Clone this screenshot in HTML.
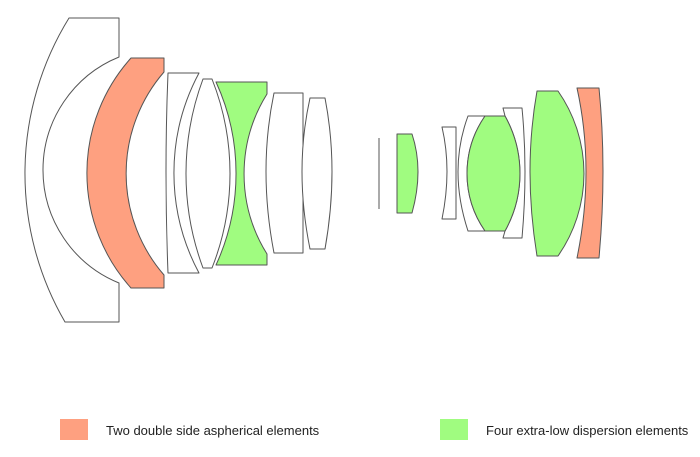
<!DOCTYPE html>
<html><head><meta charset="utf-8"><style>
html,body{margin:0;padding:0;background:#fff;width:700px;height:457px;overflow:hidden}
svg{display:block}
text{font-family:"Liberation Sans",sans-serif;font-size:13px;fill:#222}
</style></head><body>
<svg width="700" height="457" viewBox="0 0 700 457">
<g stroke="#555" stroke-width="1" stroke-linejoin="round">
<path d="M69,18 L119,18 L119,57 A122,122 0 0 0 119,283 L119,322 L65,322 A296,296 0 0 1 69,18 Z" fill="#fff"/>
<path d="M131,58 L164,58 L164,72 A155,155 0 0 0 164,275 L164,288 L131,288 A172,172 0 0 1 131,58 Z" fill="#fea080"/>
<path d="M168,73 L199,73 A212,212 0 0 0 199,273 L168,273 Q164,170 168,73 Z" fill="#fff"/>
<path d="M203,79 L212,79 A257,257 0 0 1 212,268 L203,268 A271,271 0 0 1 203,79 Z" fill="#fff"/>
<path d="M216,82 L267,82 L267,94 A151,151 0 0 0 267,254 L267,265 L216,265 A219,219 0 0 0 216,82 Z" fill="#a0fc80"/>
<path d="M274,93 L303,93 L303,253 L274,253 Q258,170 274,93 Z" fill="#fff"/>
<path d="M310,98 L325,98 Q339,170 325,249 L310,249 Q294,170 310,98 Z" fill="#fff"/>
<path d="M379,138 L379,209" fill="none"/>
<path d="M397,134 L412,134 Q424,170 412,213 L397,213 Z" fill="#a0fc80"/>
<path d="M442,127 L456,127 L456,219 L442,219 Q452,170 442,127 Z" fill="#fff"/>
<path d="M468,116 L485,116 A101,101 0 0 0 485,231 L468,231 Q448,170 468,116 Z" fill="#fff"/>
<path d="M503,108 L522,108 Q528,170 522,238 L503,238 L505,231 A118,118 0 0 0 505,116 Z" fill="#fff"/>
<path d="M485,116 L505,116 A118,118 0 0 1 505,231 L485,231 A101,101 0 0 1 485,116 Z" fill="#a0fc80"/>
<path d="M537,91 L558,91 A144,144 0 0 1 558,256 L537,256 Q523,170 537,91 Z" fill="#a0fc80"/>
<path d="M577,88 L599,88 Q607,170 599,258 L577,258 Q595,170 577,88 Z" fill="#fea080"/>
</g>
<rect x="60" y="419" width="28" height="21" fill="#fea080"/>
<text x="106" y="435">Two double side aspherical elements</text>
<rect x="440" y="419" width="28" height="21" fill="#a0fc80"/>
<text x="486" y="435">Four extra-low dispersion elements</text>
</svg>
</body></html>
